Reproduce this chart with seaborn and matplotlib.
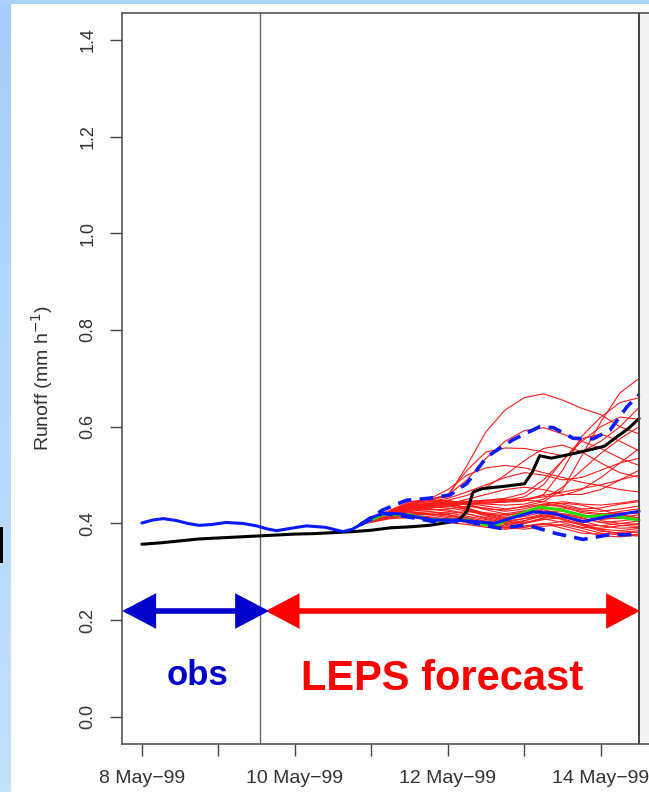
import numpy as np
import pandas as pd
import matplotlib
matplotlib.use("Agg")
import matplotlib.pyplot as plt
import seaborn as sns
from matplotlib.patches import Rectangle, FancyArrowPatch

sns.set_theme(style="white")
plt.rcParams['font.family'] = ['Liberation Sans', 'DejaVu Sans']

# ---- time axis: days since 8 May 1999 00:00 ----
tick_days = [0, 1, 2, 3, 4, 5, 6]
tick_labels = ['8 May\u221299', '', '10 May\u221299', '', '12 May\u221299', '', '14 May\u221299']
y_ticks = [0.0, 0.2, 0.4, 0.6, 0.8, 1.0, 1.2, 1.4]
y_tick_labels = ['0.0', '0.2', '0.4', '0.6', '0.8', '1.0', '1.2', '1.4']

forecast_start = 1.54
forecast_end = 6.5

# observed runoff
obs_t = [0.0, 0.25, 0.5, 0.75, 1.0, 1.25, 1.5, 1.75, 2.0, 2.25, 2.5, 2.75, 3.0, 3.25,
         3.5, 3.75, 4.0, 4.15, 4.25, 4.33, 4.45, 4.75, 5.0, 5.1, 5.2, 5.35, 5.6, 5.85,
         6.05, 6.2, 6.35, 6.5]
obs_q = [0.357, 0.360, 0.364, 0.368, 0.370, 0.372, 0.374, 0.376, 0.378, 0.379, 0.381,
         0.383, 0.386, 0.391, 0.393, 0.396, 0.402, 0.408, 0.425, 0.465, 0.472, 0.477,
         0.482, 0.505, 0.540, 0.535, 0.543, 0.552, 0.560, 0.578, 0.595, 0.617]

# simulation driven by observed rainfall
sim_t = [0.0, 0.14, 0.28, 0.45, 0.6, 0.75, 0.92, 1.1, 1.32, 1.5, 1.63, 1.76, 1.95, 2.15,
         2.4, 2.63, 2.75, 2.85, 3.0, 3.15, 3.37, 3.6, 3.81, 4.11, 4.35, 4.6, 4.85, 5.12,
         5.38, 5.57, 5.77, 6.08, 6.34, 6.5]
sim_q = [0.401, 0.407, 0.410, 0.406, 0.400, 0.396, 0.398, 0.402, 0.400, 0.395, 0.389,
         0.385, 0.390, 0.395, 0.392, 0.383, 0.388, 0.397, 0.412, 0.421, 0.420, 0.413,
         0.407, 0.407, 0.404, 0.400, 0.412, 0.424, 0.421, 0.412, 0.404, 0.414, 0.421, 0.425]

# ensemble mean
mean_t = [2.85, 3.15, 3.5, 3.77, 4.25, 4.6, 4.85, 5.2, 5.47, 5.82, 6.08, 6.5]
mean_q = [0.397, 0.418, 0.418, 0.407, 0.407, 0.393, 0.414, 0.434, 0.428, 0.414, 0.417, 0.407]

# ensemble envelope (upper / lower)
upper_t = [2.85, 3.15, 3.46, 3.75, 4.03, 4.25, 4.51, 4.85, 5.2, 5.38, 5.64, 5.9, 6.12, 6.34, 6.5]
upper_q = [0.397, 0.428, 0.448, 0.452, 0.459, 0.483, 0.538, 0.573, 0.600, 0.598, 0.576,
           0.575, 0.593, 0.641, 0.666]
lower_t = [2.85, 3.15, 3.46, 3.81, 4.25, 4.68, 5.03, 5.42, 5.77, 6.08, 6.5]
lower_q = [0.397, 0.421, 0.414, 0.404, 0.404, 0.390, 0.397, 0.379, 0.367, 0.376, 0.377]

# LEPS ensemble members
member_t = [2.85, 3.25, 3.5, 3.75, 4.0, 4.25, 4.5, 4.75, 5.0, 5.25, 5.5, 5.75, 6.0, 6.25, 6.5]
m01 = [0.398, 0.425, 0.440, 0.445, 0.448, 0.440, 0.430, 0.428, 0.436, 0.445, 0.440, 0.430, 0.432, 0.440, 0.445]
m02 = [0.398, 0.420, 0.432, 0.438, 0.440, 0.432, 0.420, 0.415, 0.425, 0.438, 0.435, 0.422, 0.418, 0.425, 0.430]
m03 = [0.398, 0.418, 0.425, 0.420, 0.415, 0.410, 0.400, 0.395, 0.405, 0.418, 0.410, 0.398, 0.395, 0.400, 0.405]
m04 = [0.398, 0.415, 0.420, 0.418, 0.420, 0.425, 0.418, 0.405, 0.400, 0.408, 0.412, 0.405, 0.395, 0.390, 0.392]
m05 = [0.398, 0.422, 0.435, 0.430, 0.425, 0.420, 0.410, 0.402, 0.410, 0.420, 0.415, 0.400, 0.388, 0.385, 0.390]
m06 = [0.398, 0.412, 0.415, 0.412, 0.410, 0.405, 0.398, 0.390, 0.395, 0.400, 0.390, 0.380, 0.378, 0.382, 0.385]
m07 = [0.398, 0.426, 0.442, 0.450, 0.446, 0.438, 0.428, 0.420, 0.426, 0.432, 0.428, 0.418, 0.412, 0.410, 0.412]
m08 = [0.398, 0.418, 0.428, 0.432, 0.436, 0.430, 0.418, 0.410, 0.414, 0.424, 0.426, 0.418, 0.406, 0.400, 0.398]
m09 = [0.398, 0.414, 0.418, 0.414, 0.408, 0.402, 0.395, 0.392, 0.400, 0.412, 0.418, 0.412, 0.402, 0.396, 0.394]
m10 = [0.398, 0.420, 0.430, 0.428, 0.430, 0.435, 0.432, 0.425, 0.430, 0.440, 0.445, 0.440, 0.438, 0.442, 0.448]
m11 = [0.398, 0.416, 0.422, 0.424, 0.422, 0.415, 0.408, 0.400, 0.392, 0.398, 0.405, 0.398, 0.386, 0.378, 0.376]
m12 = [0.398, 0.424, 0.438, 0.440, 0.438, 0.428, 0.415, 0.408, 0.418, 0.430, 0.432, 0.425, 0.420, 0.422, 0.420]
m13 = [0.398, 0.410, 0.412, 0.408, 0.402, 0.398, 0.392, 0.388, 0.392, 0.400, 0.395, 0.385, 0.375, 0.372, 0.378]
m14 = [0.398, 0.420, 0.428, 0.425, 0.418, 0.412, 0.405, 0.398, 0.402, 0.410, 0.402, 0.392, 0.390, 0.395, 0.400]
m15 = [0.398, 0.428, 0.445, 0.448, 0.442, 0.432, 0.420, 0.412, 0.420, 0.435, 0.442, 0.438, 0.428, 0.418, 0.412]
m16 = [0.398, 0.415, 0.425, 0.430, 0.428, 0.420, 0.412, 0.405, 0.410, 0.416, 0.408, 0.396, 0.384, 0.380, 0.382]
m17 = [0.398, 0.418, 0.422, 0.418, 0.412, 0.408, 0.404, 0.400, 0.406, 0.415, 0.420, 0.415, 0.408, 0.412, 0.418]
m18 = [0.398, 0.422, 0.432, 0.435, 0.432, 0.426, 0.422, 0.418, 0.422, 0.428, 0.420, 0.410, 0.402, 0.405, 0.410]
m19 = [0.398, 0.412, 0.418, 0.420, 0.418, 0.410, 0.400, 0.392, 0.388, 0.394, 0.398, 0.390, 0.380, 0.376, 0.374]
m20 = [0.398, 0.424, 0.436, 0.442, 0.445, 0.442, 0.436, 0.430, 0.434, 0.440, 0.436, 0.428, 0.425, 0.430, 0.436]
m21 = [0.398, 0.425, 0.440, 0.450, 0.455, 0.520, 0.590, 0.635, 0.660, 0.668, 0.655, 0.638, 0.625, 0.600, 0.585]
m22 = [0.398, 0.425, 0.445, 0.450, 0.458, 0.490, 0.535, 0.570, 0.592, 0.598, 0.585, 0.570, 0.555, 0.535, 0.520]
m23 = [0.398, 0.420, 0.440, 0.448, 0.460, 0.510, 0.548, 0.556, 0.555, 0.548, 0.540, 0.548, 0.570, 0.600, 0.640]
m24 = [0.398, 0.420, 0.432, 0.438, 0.440, 0.445, 0.448, 0.450, 0.448, 0.445, 0.470, 0.540, 0.610, 0.670, 0.700]
m25 = [0.398, 0.418, 0.428, 0.432, 0.436, 0.440, 0.442, 0.444, 0.446, 0.460, 0.510, 0.580, 0.620, 0.650, 0.660]
m26 = [0.398, 0.422, 0.440, 0.450, 0.470, 0.500, 0.515, 0.520, 0.515, 0.505, 0.495, 0.485, 0.478, 0.470, 0.465]
m27 = [0.398, 0.420, 0.435, 0.440, 0.442, 0.444, 0.446, 0.448, 0.455, 0.480, 0.530, 0.575, 0.585, 0.570, 0.550]
m28 = [0.398, 0.422, 0.438, 0.445, 0.452, 0.465, 0.480, 0.495, 0.505, 0.500, 0.490, 0.495, 0.510, 0.525, 0.535]
m29 = [0.398, 0.418, 0.430, 0.436, 0.440, 0.442, 0.440, 0.438, 0.440, 0.450, 0.475, 0.510, 0.545, 0.575, 0.600]
m30 = [0.398, 0.420, 0.432, 0.438, 0.440, 0.442, 0.444, 0.446, 0.450, 0.458, 0.465, 0.472, 0.480, 0.490, 0.500]
m31 = [0.398, 0.420, 0.435, 0.442, 0.448, 0.458, 0.475, 0.500, 0.530, 0.555, 0.562, 0.548, 0.525, 0.505, 0.495]
m32 = [0.398, 0.418, 0.428, 0.434, 0.438, 0.440, 0.442, 0.445, 0.450, 0.455, 0.458, 0.470, 0.495, 0.525, 0.555]
m33 = [0.398, 0.420, 0.434, 0.440, 0.444, 0.446, 0.448, 0.452, 0.462, 0.490, 0.530, 0.570, 0.600, 0.620, 0.615]
m34 = [0.398, 0.420, 0.430, 0.435, 0.440, 0.450, 0.460, 0.470, 0.475, 0.470, 0.460, 0.460, 0.470, 0.490, 0.510]
members = [m01, m02, m03, m04, m05, m06, m07, m08, m09, m10, m11, m12, m13, m14, m15, m16, m17,
           m18, m19, m20, m21, m22, m23, m24, m25, m26, m27, m28, m29, m30, m31, m32, m33, m34]

ens = pd.DataFrame({
    'day': np.tile(member_t, len(members)),
    'runoff': np.concatenate(members),
    'member': np.repeat(np.arange(len(members)), len(member_t)),
})

# ---- figure and slide background ----
W, H = 649, 792
fig = plt.figure(figsize=(W / 100, H / 100), dpi=100)
fig.patch.set_facecolor('#a9d1fa')
fig.patches.append(Rectangle((11 / W, 0), 1, 1 - 4 / H, transform=fig.transFigure,
                             facecolor='white', edgecolor='none', zorder=-10))
strip = fig.add_axes([0, 0, 11 / W, 1 - 4 / H], zorder=-5)
strip.imshow(np.linspace(0, 1, 100).reshape(-1, 1), aspect='auto',
             cmap=matplotlib.colors.LinearSegmentedColormap.from_list('s', ['#a6cefa', '#c4e1fc']))
strip.axis('off')
fig.patches.append(Rectangle((0, 1 - 563 / H), 3 / W, 36 / H, transform=fig.transFigure,
                             facecolor='black', edgecolor='none', zorder=-4))

# ---- main panel ----
x0, x1 = 122, 659
y_top, y_bot = 12.7, 744
ax = fig.add_axes([x0 / W, (H - y_bot) / H, (x1 - x0) / W, (y_bot - y_top) / H])
ax.set_facecolor('white')

ax.axvspan(forecast_end, 6.76, color='#f3f3f3', lw=0, zorder=0)

dash = [3.8, 2.3]
sns.lineplot(data=ens, x='day', y='runoff', units='member', estimator=None,
             color='#ff1a1a', lw=0.8, ax=ax, zorder=2)
sns.lineplot(x=mean_t, y=mean_q, color='#22dd00', lw=2.2, ax=ax, zorder=3)
sns.lineplot(x=obs_t, y=obs_q, color='black', lw=2.2, ax=ax, zorder=4)
sns.lineplot(x=sim_t, y=sim_q, color='#0a1aff', lw=2.2, ax=ax, zorder=5)
sns.lineplot(x=upper_t, y=upper_q, color='#0a1aff', lw=2.6, ax=ax, zorder=5)
ax.lines[-1].set_dashes(dash)
sns.lineplot(x=lower_t, y=lower_q, color='#0a1aff', lw=2.6, ax=ax, zorder=5)
ax.lines[-1].set_dashes(dash)

ax.axvline(forecast_start, color='#666666', lw=1.0, zorder=1)
ax.axvline(forecast_end, color='#444444', lw=1.4, zorder=6)

# period arrows
arrow_y = 0.219
red_arrow = FancyArrowPatch((1.62, arrow_y), (6.51, arrow_y),
                            arrowstyle='<|-|>,head_length=18,head_width=9.5',
                            mutation_scale=1, lw=4.0, color='#ff0000',
                            shrinkA=0, shrinkB=0, joinstyle='miter', zorder=7)
blue_arrow = FancyArrowPatch((-0.255, arrow_y), (1.66, arrow_y),
                             arrowstyle='<|-|>,head_length=18,head_width=9.5',
                             mutation_scale=1, lw=4.0, color='#0000cc',
                             shrinkA=0, shrinkB=0, joinstyle='miter', zorder=8)
ax.add_patch(red_arrow)
ax.add_patch(blue_arrow)

ax.text(0.73, 0.0656, 'obs', color='#0000cc', fontsize=25, fontweight='bold',
        ha='center', va='baseline', zorder=9)
ax.text(3.93, 0.0552, 'LEPS forecast', color='#ff0000', fontsize=30, fontweight='bold',
        ha='center', va='baseline', zorder=9)

# ---- axes styling ----
ax.set_xlim(-0.26, 6.76)
ax.set_ylim(-0.056, 1.456)
ax.set_xticks(tick_days)
ax.set_xticklabels(tick_labels, fontsize=14, color='#333333')
ax.set_yticks(y_ticks)
ax.set_yticklabels(y_tick_labels, fontsize=13, color='#333333', rotation=90, va='center')
ax.tick_params(axis='both', which='major', direction='out', length=8.6, width=1.0,
               color='#444444', bottom=True, left=True, top=False, right=False)
ax.tick_params(axis='x', pad=10)
ax.tick_params(axis='y', pad=10)
ax.set_xlabel('')
ax.set_ylabel('Runoff (mm h$^{-1}$)', fontsize=14, color='#333333')
ax.yaxis.set_label_coords(-0.125, 0.5)
for s in ax.spines.values():
    s.set_visible(True)
    s.set_color('#555555')
    s.set_linewidth(1.2)

fig.savefig('out.png', dpi=100)
